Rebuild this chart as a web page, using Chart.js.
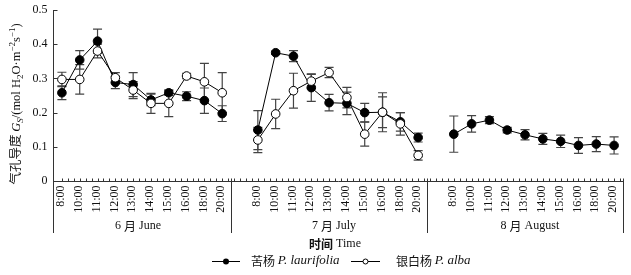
<!DOCTYPE html>
<html>
<head>
<meta charset="utf-8">
<script src="https://cdn.jsdelivr.net/npm/chart.js@4"></script>
<style>
  html, body { margin: 0; padding: 0; background: #fff; }
  canvas { display: block; }
</style>
</head>
<body>
<canvas id="gsChart" width="631" height="275" style="width:631px;height:275px"></canvas>
<script>
// time of day labels, repeated in each month
const times = ['8:00', '10:00', '11:00', '12:00', '13:00', '14:00', '15:00', '16:00', '18:00', '20:00'];
const months = ['6 月 June', '7 月 July', '8 月 August'];
const yTicks = [0, 0.1, 0.2, 0.3, 0.4, 0.5];

// 苦杨 P. laurifolia
const laurJune = [0.258, 0.354, 0.409, 0.288, 0.282, 0.237, 0.258, 0.248, 0.235, 0.197];
const laurJuneErr = [0.02, 0.027, 0.035, 0.018, 0.035, 0.017, 0.008, 0.013, 0.037, 0.023];
const laurJuly = [0.149, 0.375, 0.365, 0.273, 0.229, 0.227, 0.200, 0.201, 0.173, 0.127];
const laurJulyErr = [0.057, 0.005, 0.016, 0.04, 0.024, 0.033, 0.027, 0.045, 0.027, 0.013];
const laurAug = [0.137, 0.167, 0.178, 0.149, 0.135, 0.123, 0.116, 0.104, 0.108, 0.104];
const laurAugErr = [0.053, 0.024, 0.01, 0.008, 0.015, 0.016, 0.018, 0.023, 0.022, 0.025];

// 银白杨 P. alba (no August data)
const albaJune = [0.297, 0.297, 0.38, 0.302, 0.266, 0.227, 0.227, 0.307, 0.290, 0.258];
const albaJuneErr = [0.021, 0.043, 0.02, 0.015, 0.025, 0.029, 0.039, 0.008, 0.054, 0.059];
const albaJuly = [0.120, 0.196, 0.264, 0.292, 0.317, 0.244, 0.137, 0.201, 0.167, 0.075];
const albaJulyErr = [0.037, 0.043, 0.051, 0.02, 0.015, 0.03, 0.035, 0.057, 0.033, 0.014];

const SLOT = times.length + 1; // one empty slot between months

// turn the monthly arrays into x/y points, with a null between months so the line breaks
function buildSeries(groups) {
    const pts = [];
    groups.forEach((vals, m) => {
        vals.forEach((v, i) => pts.push({ x: m * SLOT + i, y: v }));
        if (m < groups.length - 1) pts.push({ x: m * SLOT + times.length, y: null });
    });
    return pts;
}
function buildErrors(groups) {
    const out = [];
    groups.forEach((vals, m) => {
        vals.forEach(e => out.push(e));
        if (m < groups.length - 1) out.push(null);
    });
    return out;
}

const serif = '"Liberation Serif", "Times New Roman", serif';
const cjk = '"Noto Sans CJK SC", sans-serif';

function drawRich(ctx, parts, x, y, align) {
    let total = 0;
    parts.forEach(p => { ctx.font = p.font; p.w = ctx.measureText(p.t).width; total += p.w; });
    let cx = align === 'center' ? x - total / 2 : x;
    parts.forEach(p => {
        ctx.font = p.font;
        ctx.fillText(p.t, cx, y + (p.dy || 0));
        cx += p.w;
    });
}

// error bars, drawn under the markers
const errorBars = {
    id: 'errorBars',
    beforeDatasetsDraw(chart) {
        const ctx = chart.ctx;
        const ys = chart.scales.y;
        ctx.save();
        ctx.strokeStyle = '#444';
        ctx.lineWidth = 1.2;
        chart.data.datasets.forEach((ds, di) => {
            const meta = chart.getDatasetMeta(di);
            meta.data.forEach((pt, i) => {
                const v = ds.data[i].y, e = ds.errors[i];
                if (v == null || e == null) return;
                const top = ys.getPixelForValue(v + e);
                const bot = ys.getPixelForValue(v - e);
                const x = pt.x;
                ctx.beginPath();
                ctx.moveTo(x, top); ctx.lineTo(x, bot);
                ctx.moveTo(x - 4.5, top); ctx.lineTo(x + 4.5, top);
                ctx.moveTo(x - 4.5, bot); ctx.lineTo(x + 4.5, bot);
                ctx.stroke();
            });
        });
        ctx.restore();
    }
};

// axes, tick marks, group separators, labels and legend
const axesDecor = {
    id: 'axesDecor',
    afterDraw(chart) {
        const ctx = chart.ctx;
        const xs = chart.scales.x, ys = chart.scales.y;
        const a = chart.chartArea;
        const axisY = Math.round(a.bottom) + 0.5;
        const lowY = 233;
        ctx.save();
        ctx.strokeStyle = '#333';
        ctx.lineWidth = 1;

        // y axis line (continues down past the x axis)
        const x0 = Math.round(xs.getPixelForValue(-0.5)) + 0.5;
        ctx.beginPath();
        ctx.moveTo(x0, Math.round(a.top)); ctx.lineTo(x0, lowY);
        ctx.stroke();
        // x axis line
        const x1 = Math.round(xs.getPixelForValue(xs.max)) + 0.5;
        ctx.beginPath();
        ctx.moveTo(x0, axisY); ctx.lineTo(x1, axisY);
        ctx.stroke();
        // month separators and right end
        for (let m = 1; m <= months.length; m++) {
            const sx = Math.round(xs.getPixelForValue(m * SLOT - 1.5)) + 0.5;
            ctx.beginPath();
            ctx.moveTo(sx, axisY - 3); ctx.lineTo(sx, lowY);
            ctx.stroke();
        }
        // small ticks every third of a slot, pointing up
        ctx.beginPath();
        for (let k = 0; k <= 94; k++) {
            const tx = Math.round(xs.getPixelForValue(k / 3)) + 0.5;
            ctx.moveTo(tx, axisY); ctx.lineTo(tx, axisY - 3);
        }
        ctx.stroke();
        // y ticks pointing right
        ctx.beginPath();
        yTicks.forEach(v => {
            const ty = Math.round(ys.getPixelForValue(v)) + 0.5;
            ctx.moveTo(x0, ty); ctx.lineTo(x0 + 4, ty);
        });
        ctx.stroke();

        ctx.fillStyle = '#111';
        // y tick labels
        ctx.font = '12px ' + serif;
        ctx.textAlign = 'right';
        ctx.textBaseline = 'middle';
        yTicks.forEach(v => {
            ctx.fillText(String(v), x0 - 6, ys.getPixelForValue(v));
        });

        // time labels, rotated
        months.forEach((mName, m) => {
            times.forEach((t, i) => {
                const px = xs.getPixelForValue(m * SLOT + i) - 1;
                ctx.save();
                ctx.translate(px, axisY + 4);
                ctx.rotate(-Math.PI / 2);
                ctx.textAlign = 'right';
                ctx.textBaseline = 'middle';
                ctx.font = '12px ' + serif;
                ctx.fillText(t, 0, 0);
                ctx.restore();
            });
        });

        // month labels
        ctx.textAlign = 'left';
        ctx.textBaseline = 'middle';
        months.forEach((mName, m) => {
            const cx = xs.getPixelForValue(m * SLOT + 4.5) - 4;
            const [num, yue, eng] = mName.split(' ');
            drawRich(ctx, [
                { t: num + ' ', font: '12px ' + serif },
                { t: yue, font: '12px ' + cjk },
                { t: ' ' + eng, font: '12px ' + serif }
            ], cx, 226, 'center');
        });

        // x title
        drawRich(ctx, [
            { t: '时间', font: 'bold 12px ' + cjk },
            { t: ' Time', font: '12px ' + serif }
        ], 335, 244, 'center');

        // legend
        const ly = 261;
        ctx.strokeStyle = '#000';
        ctx.beginPath();
        ctx.moveTo(212, ly + 0.5); ctx.lineTo(240, ly + 0.5);
        ctx.moveTo(351, ly + 0.5); ctx.lineTo(380, ly + 0.5);
        ctx.stroke();
        ctx.fillStyle = '#000';
        ctx.beginPath(); ctx.arc(226, ly + 0.5, 3, 0, Math.PI * 2); ctx.fill();
        ctx.fillStyle = '#fff';
        ctx.beginPath(); ctx.arc(365.5, ly + 0.5, 2.5, 0, Math.PI * 2); ctx.fill(); ctx.stroke();
        ctx.fillStyle = '#111';
        drawRich(ctx, [
            { t: '苦杨 ', font: '12px ' + cjk },
            { t: 'P. laurifolia', font: 'italic 13px ' + serif }
        ], 251, ly, 'left');
        drawRich(ctx, [
            { t: '银白杨 ', font: '12px ' + cjk },
            { t: 'P. alba', font: 'italic 13px ' + serif }
        ], 396, ly, 'left');

        // y title, rotated
        ctx.save();
        ctx.translate(20, 104);
        ctx.rotate(-Math.PI / 2);
        ctx.textBaseline = 'alphabetic';
        const big = '12.5px ' + serif, small = '9px ' + serif;
        drawRich(ctx, [
            { t: '气孔导度 ', font: '12.5px ' + cjk },
            { t: 'G', font: 'italic ' + big },
            { t: 'S', font: 'italic ' + small, dy: 2.5 },
            { t: '/(mol H', font: big },
            { t: '2', font: small, dy: 2.5 },
            { t: 'O·m', font: big },
            { t: '−2', font: small, dy: -5 },
            { t: 's', font: big },
            { t: '−1', font: small, dy: -5 },
            { t: ')', font: big }
        ], 0, 0, 'center');
        ctx.restore();

        ctx.restore();
    }
};

const ctx = document.getElementById('gsChart').getContext('2d');
new Chart(ctx, {
    type: 'line',
    data: {
        datasets: [
            {
                label: '银白杨 P. alba',
                data: buildSeries([albaJune, albaJuly]),
                errors: buildErrors([albaJuneErr, albaJulyErr]),
                borderColor: '#000',
                borderWidth: 1,
                pointRadius: 4.3,
                pointBackgroundColor: '#fff',
                pointBorderColor: '#000',
                pointBorderWidth: 1,
                spanGaps: false,
                tension: 0
            },
            {
                label: '苦杨 P. laurifolia',
                data: buildSeries([laurJune, laurJuly, laurAug]),
                errors: buildErrors([laurJuneErr, laurJulyErr, laurAugErr]),
                borderColor: '#000',
                borderWidth: 1,
                pointRadius: 4.3,
                pointBackgroundColor: '#000',
                pointBorderColor: '#000',
                pointBorderWidth: 1,
                spanGaps: false,
                tension: 0
            }
        ]
    },
    options: {
        responsive: false,
        animation: false,
        layout: { padding: { left: 53, right: 8, top: 10, bottom: 94 } },
        scales: {
            x: { type: 'linear', min: -0.5, max: 31.5, display: false },
            y: { min: 0, max: 0.5, display: false }
        },
        plugins: {
            legend: { display: false },
            tooltip: { enabled: false }
        }
    },
    plugins: [errorBars, axesDecor]
});
</script>
</body>
</html>
